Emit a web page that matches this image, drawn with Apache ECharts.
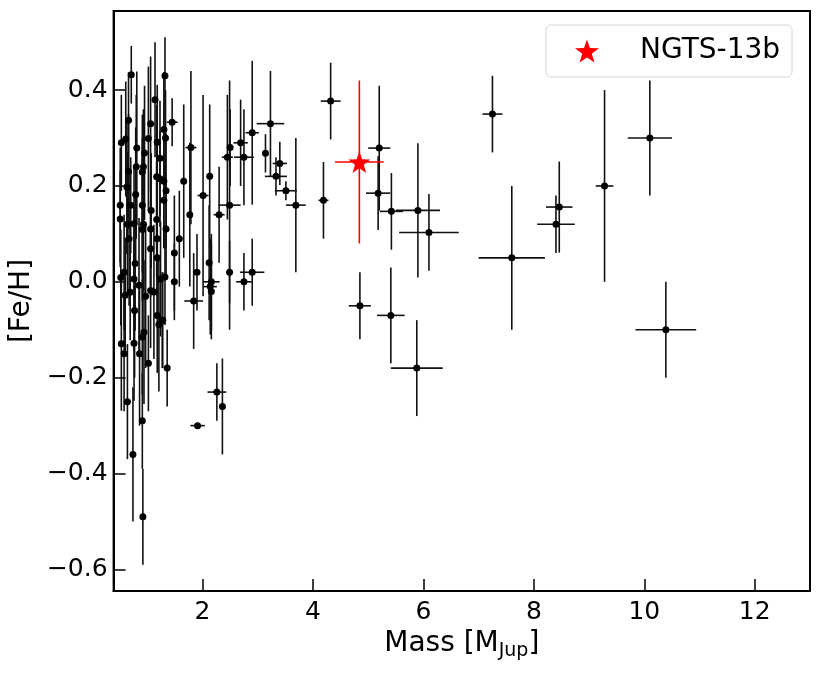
<!DOCTYPE html>
<html>
<head>
    <meta charset="UTF-8">
    <title>[Fe/H] vs Mass</title>
    <style>
        html, body { margin: 0; padding: 0; background: #fff; }
        #box { width: 822px; height: 673px; }
    </style>
    <script src="https://cdn.jsdelivr.net/npm/echarts@6/dist/echarts.min.js"></script>
</head>
<body>
<div id="box"></div>
<script>
    // known planets: mass [MJup], mass error, [Fe/H], [Fe/H] error
    var mass = [7.25, 7.60, 8.46, 8.40, 9.28, 10.10, 10.39, 4.32, 5.20, 5.18, 4.19, 5.42, 5.90, 6.10, 4.85, 5.41, 5.88,
        1.79, 2.01, 2.13, 1.66, 1.77, 2.30, 2.49, 2.45, 2.50, 2.69, 2.75, 2.90, 3.23, 3.14, 3.40, 3.33, 3.51, 3.69,
        2.12, 1.90, 2.49, 2.90, 1.84, 2.16, 2.14, 2.16, 2.75, 2.26, 2.36, 1.91, 1.58, 1.49, 1.34, 1.36, 1.32, 1.45,
        1.33, 1.30, 1.34, 1.30, 1.30, 1.32, 1.49, 1.28,
        0.71, 1.14, 0.66, 1.06, 0.53, 0.61, 1.02, 1.18, 0.81, 0.95, 1.23, 0.80, 0.93, 0.66, 1.17, 1.23, 0.91, 0.63,
        0.79, 0.51, 0.70, 0.91, 1.07, 0.51, 0.64, 0.76, 0.93, 1.17, 0.91, 1.06, 0.67, 1.18, 1.06, 1.18, 0.78, 0.58,
        0.52, 0.76, 1.24, 0.85, 1.06, 0.60, 0.97, 1.12, 0.69, 0.77, 1.18, 1.27, 1.21, 0.94, 0.91, 0.53, 0.76, 0.58,
        0.86, 1.02, 0.64, 0.91, 0.74, 0.92];
    var massErr = [0.18, 0.60, 0.24, 0.34, 0.16, 0.40, 0.55, 0.18, 0.20, 0.22, 0.09, 0.21, 0.40, 0.54, 0.20, 0.25, 0.47,
        0.10, 0.10, 0.05, 0.05, 0.03, 0.10, 0.20, 0.10, 0.05, 0.13, 0.18, 0.12, 0.25, 0.03, 0.13, 0.20, 0.20, 0.18,
        0.03, 0.03, 0.03, 0.22, 0.17, 0.15, 0.12, 0.05, 0.14, 0.17, 0.03, 0.13, 0.03, 0.03, 0.03, 0.03, 0.03, 0.10,
        0.03, 0.03, 0.03, 0.03, 0.03, 0.03, 0.03, 0.03,
        0.03, 0.03, 0.03, 0.03, 0.03, 0.03, 0.03, 0.03, 0.03, 0.03, 0.03, 0.03, 0.03, 0.03, 0.03, 0.03, 0.03, 0.03,
        0.03, 0.03, 0.03, 0.03, 0.03, 0.03, 0.03, 0.03, 0.03, 0.03, 0.03, 0.03, 0.03, 0.03, 0.03, 0.03, 0.03, 0.03,
        0.03, 0.03, 0.03, 0.03, 0.03, 0.03, 0.03, 0.03, 0.03, 0.03, 0.03, 0.03, 0.03, 0.03, 0.03, 0.03, 0.03, 0.03,
        0.03, 0.03, 0.03, 0.03, 0.03, 0.03];
    var feh = [0.35, 0.05, 0.156, 0.12, 0.20, 0.30, -0.10, 0.377, 0.279, 0.185, 0.17, 0.147, 0.149, 0.103, -0.05, -0.07, -0.18,
        0.28, 0.18, 0.22, 0.21, 0.14, 0.14, 0.16, 0.26, 0.28, 0.29, 0.26, 0.311, 0.33, 0.268, 0.247, 0.22, 0.19, 0.16,
        0.04, 0.02, 0.02, 0.02, -0.04, 0.0, -0.01, -0.02, 0.0, -0.23, -0.26, -0.30, 0.09, 0.06, 0.11, -0.18, 0.43, 0.333,
        0.30, 0.318, 0.19, 0.17, 0.21, 0.01, 0.0, -0.08,
        0.432, 0.38, 0.337, 0.33, 0.29, 0.298, 0.299, 0.291, 0.279, 0.269, 0.258, 0.24, 0.24, 0.23, 0.219, 0.215, 0.229, 0.198,
        0.182, 0.16, 0.16, 0.16, 0.149, 0.131, 0.12, 0.121, 0.12, 0.13, 0.109, 0.11, 0.09, 0.09, 0.069, 0.05, 0.038, 0.02,
        0.009, 0.006, 0.006, -0.007, -0.018, -0.028, -0.03, -0.021, -0.022, -0.06, -0.07, -0.08, -0.089, -0.105, -0.115, -0.129, -0.128, -0.15,
        -0.15, -0.17, -0.25, -0.29, -0.36, -0.49];
    var fehErr = [0.08, 0.15, 0.095, 0.06, 0.20, 0.12, 0.10, 0.08, 0.13, 0.077, 0.08, 0.08, 0.14, 0.08, 0.07, 0.10, 0.10,
        0.16, 0.21, 0.15, 0.16, 0.15, 0.10, 0.26, 0.13, 0.08, 0.09, 0.10, 0.15, 0.11, 0.04, 0.045, 0.04, 0.02, 0.14,
        0.12, 0.08, 0.065, 0.07, 0.10, 0.10, 0.10, 0.10, 0.06, 0.06, 0.10, 0.005, 0.10, 0.12, 0.10, 0.08, 0.08, 0.05,
        0.10, 0.12, 0.12, 0.10, 0.14, 0.10, 0.08, 0.10,
        0.06, 0.12, 0.10, 0.14, 0.10, 0.12, 0.15, 0.12, 0.16, 0.14, 0.12, 0.15, 0.12, 0.12, 0.15, 0.10, 0.12, 0.14,
        0.14, 0.12, 0.10, 0.14, 0.12, 0.10, 0.15, 0.12, 0.14, 0.12, 0.15, 0.12, 0.14, 0.12, 0.10, 0.12, 0.14, 0.12,
        0.10, 0.15, 0.12, 0.14, 0.12, 0.12, 0.15, 0.14, 0.10, 0.14, 0.12, 0.10, 0.14, 0.15, 0.12, 0.14, 0.12, 0.12,
        0.15, 0.10, 0.12, 0.10, 0.14, 0.10];

    // NGTS-13b
    var ngtsMass = [4.84];
    var ngtsMassErr = [0.44];
    var ngtsFeh = [0.25];
    var ngtsFehErr = [0.17];

    var xTicks = [2, 4, 6, 8, 10, 12];
    var yTicks = [-0.6, -0.4, -0.2, 0.0, 0.2, 0.4];

    var font = 'DejaVu Sans';
    var star = 'path://M0,-10L2.35,-3.24L9.51,-3.09L3.8,1.24L5.88,8.09L0,4.1L-5.88,8.09L-3.8,1.24L-9.51,-3.09L-2.35,-3.24Z';

    function rows(x, xe, y, ye) {
        var out = [];
        for (var i = 0; i < x.length; i++) out.push([x[i], y[i], xe[i], ye[i]]);
        return out;
    }
    var planets = rows(mass, massErr, feh, fehErr);
    var ngts = rows(ngtsMass, ngtsMassErr, ngtsFeh, ngtsFehErr);

    // error bars drawn as a cross for each point
    function errorBars(color) {
        return function (params, api) {
            var x = api.value(0), y = api.value(1), xe = api.value(2), ye = api.value(3);
            var l = api.coord([x - xe, y]), r = api.coord([x + xe, y]);
            var t = api.coord([x, y + ye]), b = api.coord([x, y - ye]);
            var st = { stroke: color, lineWidth: 1.6 };
            return {
                type: 'group',
                children: [
                    { type: 'line', shape: { x1: l[0], y1: l[1], x2: r[0], y2: r[1] }, style: st },
                    { type: 'line', shape: { x1: t[0], y1: t[1], x2: b[0], y2: b[1] }, style: st }
                ]
            };
        };
    }

    function fmt(v) {
        return (v < 0 ? '\u2212' : '') + Math.abs(v).toFixed(1);
    }

    var myChart = echarts.init(document.getElementById('box'));
    var option = {
        animation: false,
        backgroundColor: '#fff',
        textStyle: { fontFamily: font },
        grid: {
            left: 113, right: 12, top: 11, bottom: 82,
            show: true, borderColor: '#000', borderWidth: 2
        },
        legend: {
            data: [{ name: 'NGTS-13b', icon: star }],
            left: 546, top: 25,
            padding: [12, 12, 12, 29],
            itemWidth: 24, itemHeight: 24,
            backgroundColor: '#fff',
            borderColor: '#d6d6d6', borderWidth: 1, borderRadius: 5,
            textStyle: { fontSize: 28, color: '#000', fontFamily: font, padding: [0, 0, 0, 36] }
        },
        xAxis: {
            type: 'value',
            min: 0.39, max: 13,
            name: '{n|Mass [M}{s|Jup}{n|]}',
            nameLocation: 'middle',
            nameGap: 31,
            nameTextStyle: {
                rich: {
                    n: { fontSize: 28, fontFamily: font, color: '#000' },
                    s: { fontSize: 19, fontFamily: font, color: '#000', verticalAlign: 'bottom', padding: [0, 0, -3, 0] }
                }
            },
            splitLine: { show: false },
            axisLine: { show: true, onZero: false, lineStyle: { color: '#000', width: 2 } },
            axisTick: { inside: true, length: 12, lineStyle: { color: '#000', width: 1.5 }, customValues: xTicks },
            axisLabel: { customValues: xTicks, fontSize: 25, color: '#000', margin: 9, fontFamily: font }
        },
        yAxis: {
            type: 'value',
            min: -0.645, max: 0.565,
            name: '[Fe/H]',
            nameLocation: 'middle',
            nameGap: 70,
            nameTextStyle: { fontSize: 28, color: '#000', fontFamily: font },
            splitLine: { show: false },
            axisLine: { show: true, onZero: false, lineStyle: { color: '#000', width: 2 } },
            axisTick: { inside: true, length: 12, lineStyle: { color: '#000', width: 1.5 }, customValues: yTicks },
            axisLabel: { customValues: yTicks, fontSize: 25, color: '#000', margin: 6, fontFamily: font, formatter: fmt }
        },
        series: [
            {
                type: 'custom',
                renderItem: errorBars('#111'),
                data: planets,
                encode: { x: 0, y: 1 },
                z: 1
            },
            {
                type: 'scatter',
                symbol: 'circle',
                symbolSize: 7,
                itemStyle: { color: '#000', opacity: 1 },
                data: planets,
                z: 2
            },
            {
                type: 'custom',
                renderItem: errorBars('#f00'),
                data: ngts,
                encode: { x: 0, y: 1 },
                z: 3
            },
            {
                name: 'NGTS-13b',
                type: 'scatter',
                symbol: star,
                symbolSize: 22,
                itemStyle: { color: '#f00', opacity: 1 },
                data: ngts,
                z: 4
            }
        ]
    };
    myChart.setOption(option);
</script>
</body>
</html>
